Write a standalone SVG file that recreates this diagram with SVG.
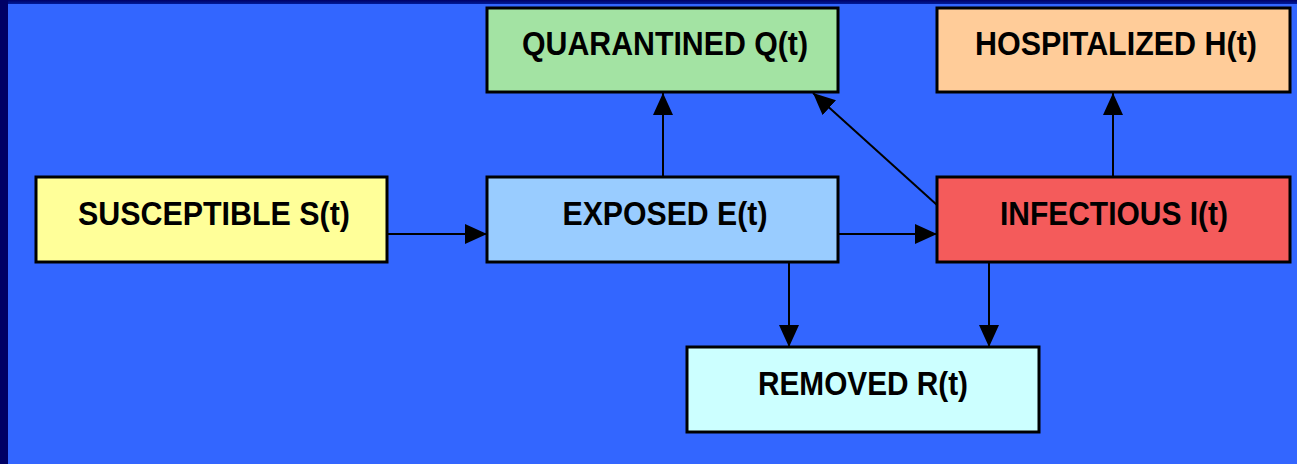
<svg xmlns="http://www.w3.org/2000/svg" width="1297" height="464" viewBox="0 0 1297 464">
  <defs>
    <marker id="head" viewBox="0 0 22 20" refX="22" refY="10" markerWidth="22" markerHeight="20" markerUnits="userSpaceOnUse" orient="auto">
      <path d="M0,0 L22,10 L0,20 Z" fill="#000"/>
    </marker>
    <linearGradient id="topband" x1="0" y1="0" x2="0" y2="1">
      <stop offset="0" stop-color="#000066"/>
      <stop offset="1" stop-color="#001a99"/>
    </linearGradient>
  </defs>
  <style>
    .box { stroke: #000; stroke-width: 3; }
    .label { font-family: "Liberation Sans", Arial, sans-serif; font-weight: bold; font-size: 33px; fill: #000; text-anchor: middle; }
    .flow { stroke: #000; stroke-width: 2; fill: none; marker-end: url(#head); }
  </style>

  <!-- slide background -->
  <rect x="0" y="0" width="1297" height="464" fill="#3366FF"/>
  <rect x="0" y="0" width="1297" height="4" fill="url(#topband)"/>
  <rect x="0" y="0" width="8" height="464" fill="#000066"/>

  <!-- transitions between compartments -->
  <g id="connectors">
    <line class="flow" x1="387" y1="234" x2="487" y2="234"/>
    <line class="flow" x1="838" y1="234" x2="937" y2="234"/>
    <line class="flow" x1="663" y1="177" x2="663" y2="93"/>
    <line class="flow" x1="1113" y1="177" x2="1113" y2="93"/>
    <line class="flow" x1="937" y1="205" x2="813" y2="93"/>
    <line class="flow" x1="789" y1="262" x2="789" y2="347"/>
    <line class="flow" x1="989" y1="262" x2="989" y2="347"/>
  </g>

  <g id="susceptible">
    <rect class="box" x="36" y="177" width="351" height="85" fill="#FFFF99"/>
    <text class="label" x="214" y="225" textLength="272" lengthAdjust="spacingAndGlyphs">SUSCEPTIBLE S(t)</text>
  </g>

  <g id="exposed">
    <rect class="box" x="487" y="177" width="351" height="85" fill="#99CCFF"/>
    <text class="label" x="665" y="225" textLength="205" lengthAdjust="spacingAndGlyphs">EXPOSED E(t)</text>
  </g>

  <g id="quarantined">
    <rect class="box" x="487" y="8" width="351" height="84" fill="#A3E3A3"/>
    <text class="label" x="665" y="55" textLength="286" lengthAdjust="spacingAndGlyphs">QUARANTINED Q(t)</text>
  </g>

  <g id="hospitalized">
    <rect class="box" x="937" y="8" width="353" height="84" fill="#FFCC99"/>
    <text class="label" x="1116" y="55" textLength="282" lengthAdjust="spacingAndGlyphs">HOSPITALIZED H(t)</text>
  </g>

  <g id="infectious">
    <rect class="box" x="937" y="177" width="353" height="85" fill="#F45B5B"/>
    <text class="label" x="1114" y="225" textLength="228" lengthAdjust="spacingAndGlyphs">INFECTIOUS I(t)</text>
  </g>

  <g id="removed">
    <rect class="box" x="687" y="347" width="352" height="85" fill="#CCFFFF"/>
    <text class="label" x="863" y="395" textLength="210" lengthAdjust="spacingAndGlyphs">REMOVED R(t)</text>
  </g>
</svg>
